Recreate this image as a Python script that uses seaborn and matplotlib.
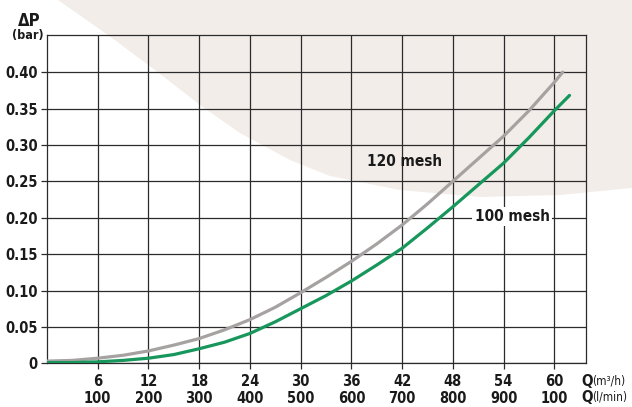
import matplotlib
matplotlib.use("Agg")
import matplotlib.pyplot as plt
from matplotlib.patches import Polygon
import seaborn as sns
import pandas as pd

# Pressure loss curves: flow (m³/h) vs ΔP (bar)
q_120 = [0, 3, 6, 9, 12, 15, 18, 21, 24, 27, 30, 33, 36, 39, 42, 45, 48, 51, 54, 57, 60, 61]
dp_120 = [0.003, 0.004, 0.007, 0.011, 0.017, 0.025, 0.034, 0.046, 0.060, 0.077, 0.097,
          0.118, 0.140, 0.164, 0.190, 0.219, 0.250, 0.281, 0.312, 0.347, 0.386, 0.400]

q_100 = [0, 3, 6, 9, 12, 15, 18, 21, 24, 27, 30, 33, 36, 39, 42, 45, 48, 51, 54, 57, 60, 61.8]
dp_100 = [0.001, 0.001, 0.002, 0.004, 0.007, 0.012, 0.020, 0.029, 0.041, 0.057, 0.075,
          0.093, 0.113, 0.135, 0.158, 0.186, 0.215, 0.245, 0.275, 0.310, 0.347, 0.368]

x_ticks = [6, 12, 18, 24, 30, 36, 42, 48, 54, 60]
lmin_labels = ["100", "200", "300", "400", "500", "600", "700", "800", "900", "100"]
y_ticks = [0, 0.05, 0.10, 0.15, 0.20, 0.25, 0.30, 0.35, 0.40]
y_labels = ["0", "0.05", "0.10", "0.15", "0.20", "0.25", "0.30", "0.35", "0.40"]

series_names = ["120 mesh", "100 mesh"]
series_colors = {"120 mesh": "#a6a2a1", "100 mesh": "#17975c"}

df = pd.concat([
    pd.DataFrame({"Q": q_120, "dP": dp_120, "mesh": series_names[0]}),
    pd.DataFrame({"Q": q_100, "dP": dp_100, "mesh": series_names[1]}),
])

sns.set_style("white")
plt.rcParams["font.family"] = ["DejaVu Sans"]
plt.rcParams["font.weight"] = "bold"
plt.rcParams["font.stretch"] = "condensed"

W, H = 632, 407
fig = plt.figure(figsize=(W / 100, H / 100), dpi=100)
fig.patch.set_facecolor("white")

# decorative beige backdrop arc behind the chart
arc_px = [(58, 0), (108, 35), (155, 70), (200, 105), (240, 133), (290, 160), (330, 176),
          (400, 190), (480, 197), (560, 195), (632, 188), (632, 0)]
backdrop = Polygon([(x / W, 1 - y / H) for x, y in arc_px], closed=True,
                   transform=fig.transFigure, facecolor="#f2ede9", edgecolor="none", zorder=-1)
fig.patches.append(backdrop)

ax = fig.add_axes([47 / W, 1 - 363.3 / H, (586 - 47) / W, (363.3 - 35) / H])
ax.set_facecolor("none")
ax.set_zorder(1)

sns.lineplot(data=df, x="Q", y="dP", hue="mesh", palette=series_colors,
             linewidth=2.3, legend=False, ax=ax, sort=False, zorder=3)

ax.set_xlim(0, 63.75)
ax.set_ylim(0, 0.451)

grid_c = "#2b2b2b"
txt_c = "#1a1a1a"
ax.set_xticks(x_ticks)
ax.set_xticklabels([f"{a}\n{b}" for a, b in zip(x_ticks, lmin_labels)],
                   linespacing=1.15, fontsize=10.5, fontweight="bold", fontstretch="condensed")
ax.set_yticks(y_ticks)
ax.set_yticklabels(y_labels, fontsize=10.5, fontweight="bold", fontstretch="condensed")
ax.tick_params(axis="both", direction="out", length=4, width=0.9, color=grid_c,
               labelcolor=txt_c, bottom=True, left=True)
ax.tick_params(axis="x", pad=4)
ax.tick_params(axis="y", pad=2.5)
ax.grid(True, color=grid_c, linewidth=0.9)
ax.set_axisbelow(True)
for s in ax.spines.values():
    s.set_visible(True)
    s.set_color(grid_c)
    s.set_linewidth(0.9)
ax.set_xlabel("")
ax.set_ylabel("")

# curve labels
ax.text(42.3, 0.277, "120 mesh", ha="center", va="center", fontsize=11,
        fontweight="bold", fontstretch="condensed", color=txt_c, zorder=4)
ax.text(55.0, 0.2016, "100 mesh", ha="center", va="center", fontsize=11,
        fontweight="bold", fontstretch="condensed", color=txt_c, zorder=4,
        bbox=dict(facecolor="white", edgecolor="none", pad=1.5))

# axis titles
fig.text(29 / W, 1 - 21 / H, "ΔP", ha="center", va="center", fontsize=12,
         fontweight="bold", color=txt_c)
fig.text(28 / W, 1 - 35 / H, "(bar)", ha="center", va="center", fontsize=9,
         fontweight="bold", color=txt_c)
for yy, unit in [(381, "(m³/h)"), (397.5, "(l/min)")]:
    fig.text(581 / W, 1 - yy / H, "Q", ha="left", va="center", fontsize=11,
             fontweight="bold", color=txt_c)
    fig.text(592 / W, 1 - yy / H, unit, ha="left", va="center", fontsize=8.5,
             fontweight="normal", color=txt_c)

fig.savefig("out.png", dpi=100, facecolor=fig.get_facecolor())
